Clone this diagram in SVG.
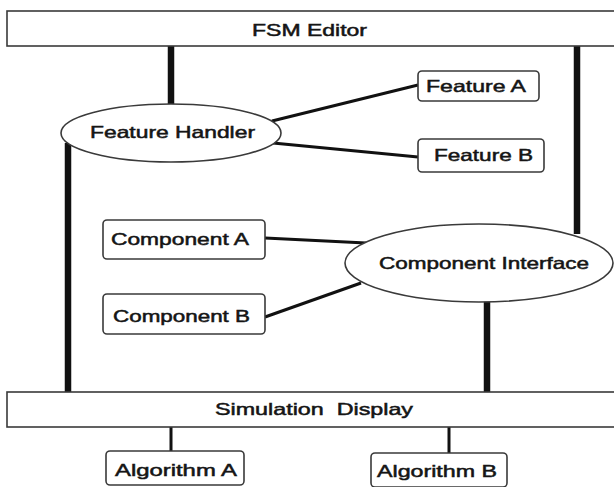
<svg xmlns="http://www.w3.org/2000/svg" width="614" height="487" viewBox="0 0 614 487">
  <style>
    .bar { fill: #ffffff; stroke: #3a3a3a; stroke-width: 1.6; }
    .box { fill: #ffffff; stroke: #3a3a3a; stroke-width: 1.6; }
    .oval { fill: #ffffff; stroke: #3a3a3a; stroke-width: 1.6; }
    .lbl { font-family: "Liberation Sans", Arial, sans-serif; font-size: 16.5px; fill: #151515; stroke: #151515; stroke-width: 0.5; }
    .thick { stroke: #111111; stroke-width: 6.5; fill: none; }
    .thin { stroke: #111111; stroke-width: 3; fill: none; }
  </style>
  <rect width="614" height="487" fill="#ffffff"/>

  <!-- links between components -->
  <g id="connectors">
    <line class="thick" x1="171" y1="46" x2="171" y2="105"/>
    <line class="thick" x1="577" y1="46" x2="577" y2="234"/>
    <line class="thick" x1="68" y1="143" x2="68" y2="392"/>
    <line class="thick" x1="487" y1="301" x2="487" y2="392"/>
    <line class="thin" x1="272" y1="121" x2="418" y2="85"/>
    <line class="thin" x1="273" y1="143" x2="418" y2="157"/>
    <line class="thin" x1="265" y1="238" x2="366" y2="243"/>
    <line class="thin" x1="265" y1="317" x2="361" y2="283"/>
    <line class="thin" x1="171" y1="427" x2="171" y2="451"/>
    <line class="thin" x1="449" y1="427" x2="449" y2="453"/>
  </g>

  <g id="fsm-editor">
    <rect class="bar" x="7" y="11" width="620" height="35"/>
    <text class="lbl" x="252" y="36" textLength="115" lengthAdjust="spacingAndGlyphs">FSM Editor</text>
  </g>

  <g id="feature-handler">
    <ellipse class="oval" cx="171" cy="133" rx="110" ry="29"/>
    <text class="lbl" x="90" y="138" textLength="165" lengthAdjust="spacingAndGlyphs">Feature Handler</text>
  </g>

  <g id="feature-a">
    <rect class="box" x="418" y="71" width="121" height="30" rx="4"/>
    <text class="lbl" x="426" y="92" textLength="100" lengthAdjust="spacingAndGlyphs">Feature A</text>
  </g>

  <g id="feature-b">
    <rect class="box" x="418" y="139" width="126" height="33" rx="4"/>
    <text class="lbl" x="434" y="161" textLength="99" lengthAdjust="spacingAndGlyphs">Feature B</text>
  </g>

  <g id="component-a">
    <rect class="box" x="103" y="220" width="162" height="39" rx="4"/>
    <text class="lbl" x="111" y="245" textLength="138" lengthAdjust="spacingAndGlyphs">Component A</text>
  </g>

  <g id="component-b">
    <rect class="box" x="103" y="294" width="162" height="40" rx="4"/>
    <text class="lbl" x="113" y="322" textLength="137" lengthAdjust="spacingAndGlyphs">Component B</text>
  </g>

  <g id="component-interface">
    <ellipse class="oval" cx="479" cy="263" rx="134" ry="39"/>
    <text class="lbl" x="379" y="269" textLength="210" lengthAdjust="spacingAndGlyphs">Component Interface</text>
  </g>

  <g id="simulation-display">
    <rect class="bar" x="7" y="392" width="620" height="35"/>
    <text class="lbl" x="215" y="415" textLength="198" lengthAdjust="spacingAndGlyphs" xml:space="preserve">Simulation  Display</text>
  </g>

  <g id="algorithm-a">
    <rect class="box" x="106" y="451" width="138" height="34" rx="4"/>
    <text class="lbl" x="115" y="476" textLength="122" lengthAdjust="spacingAndGlyphs">Algorithm A</text>
  </g>

  <g id="algorithm-b">
    <rect class="box" x="371" y="453" width="136" height="34" rx="4"/>
    <text class="lbl" x="377" y="477" textLength="120" lengthAdjust="spacingAndGlyphs">Algorithm B</text>
  </g>
</svg>
